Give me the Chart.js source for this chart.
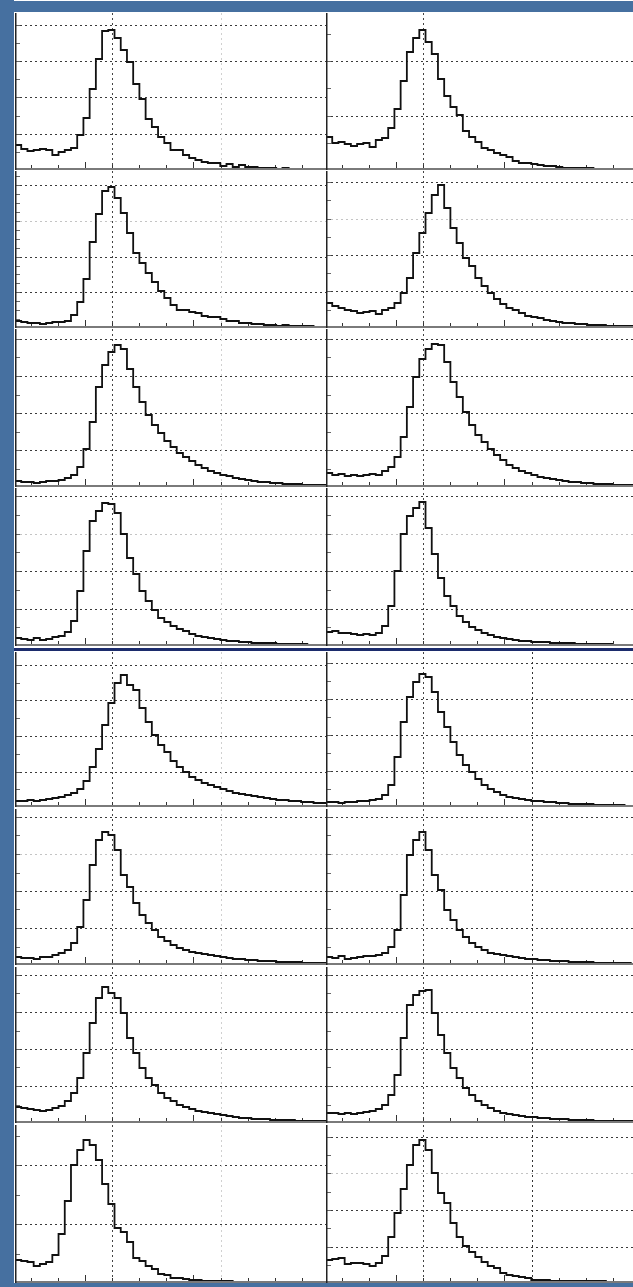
<!DOCTYPE html>
<html>
<head>
<meta charset="utf-8">
<script src="https://cdn.jsdelivr.net/npm/chart.js@4.4.1/dist/chart.umd.min.js"></script>
<style>
  html, body { margin: 0; padding: 0; background: #fff; }
  body { width: 633px; height: 1287px; position: relative; overflow: hidden; }
  canvas { position: absolute; }
  .bar { position: absolute; }
</style>
</head>
<body>
<div class="bar" style="left:0;top:0;width:14px;height:1287px;background:#4670a0"></div>
<div class="bar" style="left:0;top:1px;width:633px;height:11px;background:#4670a0"></div>
<div class="bar" style="left:0;top:1283px;width:633px;height:4px;background:#4670a0"></div>
<div class="bar" style="left:14px;top:648px;width:619px;height:3px;background:#1c2c6c;z-index:2"></div>

<script>
// ---- histogram bins (shared by every panel) ----
const binStart = -0.6;
const binWidth = 0.23;
const binCount = 50;
const xTicks = [0, 1, 2, 3, 4, 5, 6, 7, 8, 9, 10];

// ---- bin heights, one array per panel (row 1..8, left / right) ----
const r1Left  = [25,21,19,20,21,20,15,18,20,22, 35,52,81,111,139,140,132,120,108,86, 71,51,43,33,27,20,20,15,12,10, 8,7,7,4,6,3,5,3,3,2, 2,2,1,2,1,1,1,1,1,1];
const r1Right = [33,27,28,26,24,26,27,23,30,32, 42,61,89,118,132,140,128,116,91,74, 63,55,39,33,28,22,20,17,15,13, 9,7,7,6,5,4,4,3,2,2, 2,2,2,1,1,1,1,1,1,1];
const r2Left  = [7,6,5,5,4,5,6,6,7,13, 26,49,86,114,137,141,130,115,95,75, 65,55,46,37,30,23,18,18,16,15, 12,11,11,9,7,7,5,5,4,4, 3,3,2,3,2,2,2,2,1,1];
const r2Right = [25,22,20,18,17,15,16,17,14,18, 20,25,35,50,75,95,115,133,143,120, 100,85,70,62,50,42,35,29,24,20, 18,15,12,11,10,8,7,6,5,5, 4,4,3,3,3,2,2,2,2,2];
const r3Left  = [6,5,5,4,5,6,6,7,9,12, 20,38,65,100,122,135,142,138,118,100, 85,72,62,54,46,40,34,30,26,22, 19,16,14,12,11,9,8,7,6,5, 5,4,4,3,3,3,2,2,2,2];
const r3Right = [14,12,13,11,12,11,12,13,12,16, 20,30,50,80,110,128,138,143,142,125, 105,90,75,62,52,45,38,32,27,22, 19,16,14,12,10,9,8,7,6,5, 5,4,4,3,3,3,2,2,2,2];
const r4Left  = [8,7,6,8,6,7,9,10,14,25, 55,95,125,135,143,142,133,112,88,72, 55,45,36,28,24,20,17,15,12,10, 9,8,7,6,5,5,4,4,3,3, 3,3,2,2,2,2,2,1,1,1];
const r4Right = [14,15,13,13,12,11,12,11,13,20, 40,75,112,130,138,144,118,92,68,50, 40,30,24,19,16,13,11,9,8,7, 6,5,5,4,4,4,3,3,3,3, 2,2,2,2,2,2,1,1,1,1];
const r5Left  = [6,6,7,6,7,8,9,10,12,14, 18,26,40,58,82,104,124,132,122,117, 99,85,72,62,55,46,40,35,30,27, 24,22,20,18,16,14,13,12,11,10, 9,8,7,7,6,6,5,5,4,4];
const r5Right = [5,5,4,5,5,6,6,7,8,12, 22,50,85,110,125,133,130,115,95,80, 65,52,42,35,28,22,18,15,12,10, 9,8,7,6,6,5,5,4,4,3, 3,3,3,2,2,2,2,2,1,1];
const r6Left  = [8,7,7,6,8,8,10,12,15,22, 38,65,100,125,133,130,115,90,78,62, 50,42,35,28,24,20,17,15,13,12, 11,10,9,8,7,6,6,5,5,4, 4,4,3,3,3,3,2,2,2,2];
const r6Right = [8,7,9,6,7,8,9,9,10,12, 18,35,70,110,125,133,115,90,75,55, 45,35,28,22,18,15,12,11,10,9, 8,7,6,6,5,5,4,4,4,3, 3,3,3,2,2,2,2,2,2,1];
const r7Left  = [16,15,14,13,12,13,15,17,22,30, 45,70,100,125,136,130,125,110,85,70, 55,45,38,30,25,22,18,16,14,12, 11,10,9,8,7,6,5,5,4,4, 4,3,3,3,3,2,2,2,2,2];
const r7Right = [10,10,9,10,9,10,11,12,14,18, 28,48,85,118,128,132,133,110,88,70, 55,45,35,28,22,18,15,12,10,9, 8,7,6,6,5,5,4,4,4,3, 3,3,3,2,2,2,2,2,2,2];
const r8Left  = [23,22,21,17,19,21,28,49,82,118, 133,143,138,123,99,79,55,51,41,25, 22,17,14,9,8,5,5,4,3,3, 2,2,2,2,2,1,1,1,1,1, 1,1,1,1,1,1,1,1,1,1];
const r8Right = [23,24,25,19,20,20,19,17,20,27, 46,70,94,118,138,143,133,110,90,80, 60,46,37,31,26,21,17,15,10,8, 7,6,5,3,3,3,2,2,2,2, 2,2,2,2,2,1,1,1,1,1];

// grid spacing (same units as the bin heights) per panel, left then right
const gridSteps = [36.3, 54.5, 35.7, 36.5, 37, 37, 37.5, 37.5, 35.5, 36, 37, 37, 37, 37, 59, 36.5];

// ---- layout ----
const rowTops    = [13, 171, 329, 488, 652, 809, 967, 1125];
const rowHeights = [157, 157, 158, 158, 155, 156, 156, 158];
const colLefts   = [15, 326];
const panelWidth = 311;

const series = [
  [r1Left, r1Right], [r2Left, r2Right], [r3Left, r3Right], [r4Left, r4Right],
  [r5Left, r5Right], [r6Left, r6Right], [r7Left, r7Right], [r8Left, r8Right],
];

// draws dotted grid, marker lines, inward ticks and axis lines
const panelDecor = {
  id: 'panelDecor',
  beforeDatasetsDraw(chart, args, opts) {
    const { ctx, chartArea: a, scales: { x, y } } = chart;
    ctx.save();
    ctx.lineWidth = 1;
    ctx.setLineDash([2, 3]);

    let i = 1;
    for (let v = opts.gridStep; v < y.max - 2; v += opts.gridStep, i++) {
      const py = Math.round(y.getPixelForValue(v)) + 0.5;
      ctx.strokeStyle = opts.faint.includes(i) ? '#c4c4c4' : '#3a3a3a';
      ctx.beginPath();
      ctx.moveTo(a.left, py);
      ctx.lineTo(a.right, py);
      ctx.stroke();
    }

    opts.vLines.forEach(([v, c]) => {
      const px = Math.round(x.getPixelForValue(v)) + 0.5;
      ctx.strokeStyle = c;
      ctx.beginPath();
      ctx.moveTo(px, a.top);
      ctx.lineTo(px, a.bottom);
      ctx.stroke();
    });
    ctx.setLineDash([]);

    // left minor ticks
    ctx.strokeStyle = '#666';
    const minor = opts.gridStep / opts.tickDiv;
    for (let v = minor; v < y.max; v += minor) {
      const py = Math.round(y.getPixelForValue(v)) + 0.5;
      ctx.beginPath();
      ctx.moveTo(a.left, py);
      ctx.lineTo(a.left + 5, py);
      ctx.stroke();
    }

    // bottom ticks
    ctx.strokeStyle = '#333';
    xTicks.forEach((t) => {
      const px = Math.round(x.getPixelForValue(t)) + 0.5;
      const len = (t === 2 || t === 6) ? 8 : 5;
      ctx.beginPath();
      ctx.moveTo(px, a.bottom);
      ctx.lineTo(px, a.bottom - len);
      ctx.stroke();
    });
    ctx.restore();
  },
  afterDatasetsDraw(chart) {
    const { ctx, chartArea: a } = chart;
    ctx.save();
    ctx.strokeStyle = '#7a7a7a';
    ctx.lineWidth = 2;
    ctx.beginPath();
    ctx.moveTo(a.left, a.bottom - 1);
    ctx.lineTo(a.right, a.bottom - 1);
    ctx.stroke();
    ctx.strokeStyle = '#222';
    ctx.lineWidth = 1.5;
    ctx.beginPath();
    ctx.moveTo(a.left + 0.75, a.top);
    ctx.lineTo(a.left + 0.75, a.bottom);
    ctx.stroke();
    ctx.restore();
  },
};

// bin k holds its value from its left edge up to the next edge
function toSteps(values) {
  const pts = values.map((v, k) => ({ x: binStart + k * binWidth, y: v }));
  pts.push({ x: binStart + binCount * binWidth, y: values[values.length - 1] });
  return pts;
}

series.forEach((pair, row) => {
  pair.forEach((values, col) => {
    const canvas = document.createElement('canvas');
    canvas.width = panelWidth;
    canvas.height = rowHeights[row];
    canvas.style.left = colLefts[col] + 'px';
    canvas.style.top = rowTops[row] + 'px';
    document.body.appendChild(canvas);

    const lowerHalf = row >= 4;
    const seventh = (col === 1 && lowerHalf) ? '#333' : (col === 1 ? 'rgba(0,0,0,0)' : '#d0d0d0');

    new Chart(canvas.getContext('2d'), {
      type: 'line',
      data: {
        datasets: [{
          data: toSteps(values),
          stepped: 'before',
          borderColor: '#111',
          borderWidth: 1.8,
          pointRadius: 0,
          fill: false,
        }],
      },
      options: {
        responsive: false,
        animation: false,
        events: [],
        layout: { padding: 0 },
        plugins: {
          legend: { display: false },
          tooltip: { enabled: false },
          panelDecor: {
            gridStep: gridSteps[row * 2 + col],
            tickDiv: (row === 1 && col === 0) ? 4 : 2,
            faint: (row % 2 === 1) ? [3] : [],
            vLines: [[3, '#444'], [7, seventh]],
          },
        },
        scales: {
          x: { type: 'linear', min: binStart, max: binStart + binCount * binWidth, display: false },
          y: { min: 0, max: rowHeights[row], display: false },
        },
      },
      plugins: [panelDecor],
    });
  });
});
</script>
</body>
</html>
